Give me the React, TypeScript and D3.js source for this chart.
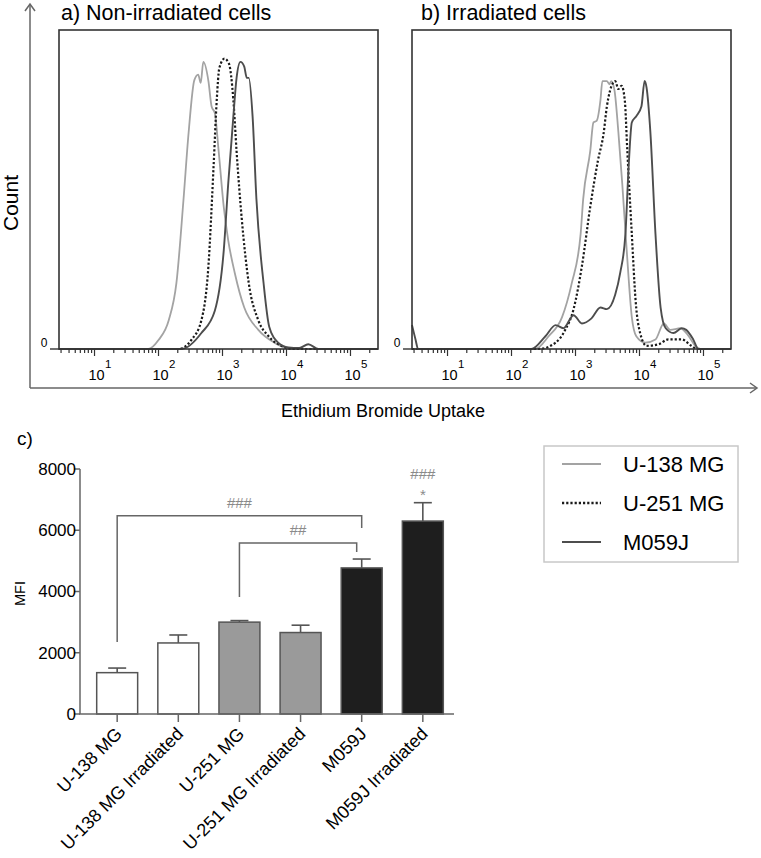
import { useRef, useEffect } from 'react'
import * as d3 from 'd3'

// flow histograms: [log10 intensity, % of max count]
const u138NonIrr: [number, number][] = [[0.445,0],[1.84,0],[2.0,2.8],[2.16,9],[2.28,20.7],[2.39,46.7],[2.47,67.7],[2.56,84.3],[2.62,86],[2.66,83.4],[2.70,90],[2.78,84],[2.83,76],[2.88,74],[2.94,62],[3.02,44.5],[3.09,34],[3.19,24],[3.34,13],[3.56,6],[3.81,2],[4.08,0],[5.43,0]]
const u251NonIrr: [number, number][] = [[0.445,0],[2.31,0],[2.52,3],[2.67,9],[2.78,26],[2.86,57],[2.91,78],[2.95,88],[3.03,91],[3.10,89.5],[3.17,78],[3.22,62],[3.30,41],[3.41,20.7],[3.56,9],[3.72,4],[3.92,1],[4.1,0],[5.43,0]]
const m059NonIrr: [number, number][] = [[0.445,0],[2.36,0],[2.67,5],[2.88,12],[3.02,31],[3.09,52],[3.17,73],[3.22,85],[3.28,90],[3.34,88.5],[3.38,85],[3.41,85],[3.47,73],[3.53,47],[3.64,21],[3.73,7],[3.87,2],[4.03,0.5],[4.2,0.3],[4.34,1.5],[4.5,0],[5.43,0]]

const u138Irr: [number, number][] = [[0.445,0],[2.37,0],[2.58,4],[2.79,10],[2.94,20.5],[3.08,36],[3.12,47],[3.23,62],[3.28,71],[3.33,71.5],[3.39,78],[3.42,84],[3.49,84],[3.53,83],[3.56,84],[3.61,81],[3.67,68],[3.73,52],[3.80,31],[3.88,10],[3.95,4],[4.09,2],[4.25,3],[4.38,8],[4.48,6],[4.64,6.5],[4.77,4],[4.87,1],[4.95,0],[5.43,0]]
const u251Irr: [number, number][] = [[0.445,0],[2.42,0],[2.69,2],[2.84,6],[2.97,12.5],[3.10,26],[3.23,44.5],[3.35,59],[3.44,67.7],[3.49,76],[3.54,81],[3.62,84],[3.67,81.5],[3.72,82.5],[3.77,78],[3.81,62],[3.88,36],[3.94,15],[4.01,5],[4.11,1],[4.30,1.5],[4.45,3],[4.66,3],[4.81,1],[4.9,0],[5.43,0]]
const m059Irr: [number, number][] = [[0.445,7.5],[0.5,3],[0.54,0],[2.31,0],[2.53,4],[2.69,7.5],[2.81,6.5],[2.97,10.6],[3.10,8],[3.25,9.6],[3.39,13],[3.49,12.5],[3.62,17],[3.70,24],[3.78,36],[3.83,57],[3.88,71],[3.95,73],[4.03,76],[4.08,84],[4.11,82],[4.17,68],[4.25,36],[4.33,13],[4.41,6.5],[4.53,5],[4.66,6.5],[4.73,6],[4.84,3],[4.92,0],[5.43,0]]

const decades = [1, 2, 3, 4, 5]
const panelTitles = ['a) Non-irradiated cells', 'b) Irradiated cells']
const seriesNames = ['U-138 MG', 'U-251 MG', 'M059J']

// bar chart
const barCategories = ['U-138 MG', 'U-138 MG Irradiated', 'U-251 MG', 'U-251 MG Irradiated', 'M059J', 'M059J Irradiated']
const barMeans = [1350, 2320, 3000, 2660, 4770, 6300]
const barErrors = [150, 260, 50, 240, 290, 600]
const mfiTicks = [0, 2000, 4000, 6000, 8000]
// brackets: [from bar, to bar, level, left foot, right foot, label]
const brackets: [number, number, number, number, number, string][] = [
  [0, 4, 6470, 2350, 6070, '###'],
  [2, 4, 5580, 3820, 5290, '##'],
]

const FONT = 'Liberation Sans, Arial, Helvetica, sans-serif'
const seriesStyle = [
  { stroke: '#a3a3a3', width: 1.8, dash: null },
  { stroke: '#1a1a1a', width: 2.2, dash: '2.2,2' },
  { stroke: '#4d4d4d', width: 1.9, dash: null },
]
const barFill = ['#ffffff', '#ffffff', '#9a9a9a', '#9a9a9a', '#1e1e1e', '#1e1e1e']

const App = () => {
  const svgRef = useRef<SVGSVGElement>(null)

  useEffect(() => {
    const svg = d3.select(svgRef.current)
    svg.selectAll('*').remove()
    svg.attr('font-family', FONT)

    // arrow helper
    const chevron = (pts: [number, number][]) =>
      svg.append('path').attr('d', d3.line()(pts)).attr('fill', 'none')
        .attr('stroke', '#666').attr('stroke-width', 1.5)

    // outer axes with arrows
    svg.append('line').attr('x1', 30).attr('x2', 30).attr('y1', 4).attr('y2', 388)
      .attr('stroke', '#666').attr('stroke-width', 1.5)
    svg.append('line').attr('x1', 30).attr('x2', 757).attr('y1', 388).attr('y2', 388)
      .attr('stroke', '#666').attr('stroke-width', 1.5)
    chevron([[25, 11], [30, 4], [35, 11]])
    chevron([[750, 383], [757, 388], [750, 393]])

    svg.append('text').attr('transform', 'translate(18,203) rotate(-90)')
      .attr('text-anchor', 'middle').attr('font-size', 21).text('Count')
    svg.append('text').attr('x', 383).attr('y', 417)
      .attr('text-anchor', 'middle').attr('font-size', 18).text('Ethidium Bromide Uptake')

    const panels = [
      { x0: 59, data: [u138NonIrr, u251NonIrr, m059NonIrr] },
      { x0: 412, data: [u138Irr, u251Irr, m059Irr] },
    ]
    const boxW = 319, top = 30, base = 349

    panels.forEach((p, pi) => {
      const g = svg.append('g')
      const x = d3.scaleLog().domain([10 ** 0.445, 10 ** 5.43]).range([p.x0, p.x0 + boxW])
      const y = d3.scaleLinear().domain([0, 100]).range([base, top])

      g.append('text').attr('x', p.x0 + 2 + (pi ? 7 : 0)).attr('y', 19.5)
        .attr('font-size', 21.5).text(panelTitles[pi])

      const line = d3.line<[number, number]>()
        .x(d => x(10 ** d[0])).y(d => y(d[1])).curve(d3.curveMonotoneX)
      p.data.forEach((s, si) => {
        const st = seriesStyle[si]
        g.append('path').attr('d', line(s)).attr('fill', 'none')
          .attr('stroke', st.stroke).attr('stroke-width', st.width)
          .attr('stroke-dasharray', st.dash).attr('stroke-linejoin', 'round')
      })

      g.append('rect').attr('x', p.x0).attr('y', top).attr('width', boxW).attr('height', base - top)
        .attr('fill', 'none').attr('stroke', '#333').attr('stroke-width', 1.6)

      // zero tick
      g.append('line').attr('x1', p.x0 - 9).attr('x2', p.x0).attr('y1', base).attr('y2', base)
        .attr('stroke', '#333').attr('stroke-width', 1.4)
      g.append('text').attr('x', p.x0 - 15).attr('y', base - 2).attr('text-anchor', 'middle')
        .attr('font-size', 12).text('0')

      // log ticks
      const [d0, d1] = x.domain()
      for (let n = 0; n <= 5; n++) {
        for (let k = 1; k <= 9; k++) {
          const v = k * 10 ** n
          if (v < d0 || v > d1) continue
          g.append('line').attr('x1', x(v)).attr('x2', x(v)).attr('y1', base)
            .attr('y2', base + (k === 1 ? 7 : 4))
            .attr('stroke', '#333').attr('stroke-width', 1.2)
        }
      }
      decades.forEach(d => {
        const xv = x(10 ** d)
        g.append('text').attr('x', xv + 2).attr('y', 380).attr('text-anchor', 'middle')
          .attr('font-size', 14.5).text('10')
        g.append('text').attr('x', xv + 10.5).attr('y', 368)
          .attr('font-size', 11.5).text(String(d))
      })
    })

    // ---- bar chart
    const bx = d3.scaleBand<string>().domain(barCategories).range([86, 454])
      .paddingInner(0.33).paddingOuter(0.175)
    const by = d3.scaleLinear().domain([0, 8000]).range([714, 469])

    svg.append('text').attr('x', 17).attr('y', 445).attr('font-size', 19).text('c)')

    const bars = svg.append('g')
    barCategories.forEach((c, i) => {
      const cx = bx(c)! + bx.bandwidth() / 2
      const ytop = by(barMeans[i] + barErrors[i])
      bars.append('line').attr('x1', cx).attr('x2', cx).attr('y1', by(barMeans[i])).attr('y2', ytop)
        .attr('stroke', '#555').attr('stroke-width', 1.6)
      bars.append('line').attr('x1', cx - 9).attr('x2', cx + 9).attr('y1', ytop).attr('y2', ytop)
        .attr('stroke', '#555').attr('stroke-width', 1.6)
      bars.append('rect').attr('x', bx(c)!).attr('y', by(barMeans[i]))
        .attr('width', bx.bandwidth()).attr('height', by(0) - by(barMeans[i]))
        .attr('fill', barFill[i]).attr('stroke', '#555').attr('stroke-width', 1.5)
    })

    // axes
    svg.append('line').attr('x1', 80).attr('x2', 80).attr('y1', by(8000)).attr('y2', by(0))
      .attr('stroke', '#666').attr('stroke-width', 1.5)
    svg.append('line').attr('x1', 79).attr('x2', 454).attr('y1', by(0)).attr('y2', by(0))
      .attr('stroke', '#666').attr('stroke-width', 1.5)
    mfiTicks.forEach(t => {
      svg.append('line').attr('x1', 74).attr('x2', 80).attr('y1', by(t)).attr('y2', by(t))
        .attr('stroke', '#666').attr('stroke-width', 1.5)
      svg.append('text').attr('x', 76).attr('y', by(t)).attr('dy', '0.35em')
        .attr('text-anchor', 'end').attr('font-size', 17).text(String(t))
    })
    svg.append('text').attr('transform', `translate(25,${(by(0) + by(8000)) / 2 + 2}) rotate(-90)`)
      .attr('text-anchor', 'middle').attr('font-size', 14.5).text('MFI')

    barCategories.forEach(c => {
      const cx = bx(c)! + bx.bandwidth() / 2
      svg.append('line').attr('x1', cx).attr('x2', cx).attr('y1', by(0)).attr('y2', by(0) + 8)
        .attr('stroke', '#666').attr('stroke-width', 1.5)
      svg.append('text').attr('transform', `translate(${cx + 6},${by(0) + 21}) rotate(-45)`)
        .attr('text-anchor', 'end').attr('font-size', 18).text(c)
    })

    // significance
    brackets.forEach(([a, b, lvl, fa, fb, lab], i) => {
      const xa = bx(barCategories[a])! + bx.bandwidth() / 2
      const xb = bx(barCategories[b])! + bx.bandwidth() / 2 - (i ? 5 : 0)
      svg.append('path').attr('d', d3.line()([[xa, by(fa)], [xa, by(lvl)], [xb, by(lvl)], [xb, by(fb)]]))
        .attr('fill', 'none').attr('stroke', '#666').attr('stroke-width', 1.5)
      svg.append('text').attr('x', (xa + xb) / 2).attr('y', by(lvl) - 8).attr('text-anchor', 'middle')
        .attr('font-size', 15).attr('fill', '#8a8a8a').text(lab)
    })
    const lastX = bx(barCategories[5])! + bx.bandwidth() / 2
    const lastTop = by(barMeans[5] + barErrors[5])
    svg.append('text').attr('x', lastX).attr('y', lastTop - 3).attr('text-anchor', 'middle')
      .attr('font-size', 15).attr('fill', '#8a8a8a').text('*')
    svg.append('text').attr('x', lastX).attr('y', lastTop - 24).attr('text-anchor', 'middle')
      .attr('font-size', 15).attr('fill', '#8a8a8a').text('###')

    // legend
    const lg = svg.append('g')
    lg.append('rect').attr('x', 544).attr('y', 446).attr('width', 194).attr('height', 116)
      .attr('fill', 'none').attr('stroke', '#c8c8c8').attr('stroke-width', 1.5)
    seriesNames.forEach((n, i) => {
      const yy = 464 + i * 39
      const st = seriesStyle[i]
      lg.append('line').attr('x1', 562).attr('x2', 601).attr('y1', yy).attr('y2', yy)
        .attr('stroke', st.stroke).attr('stroke-width', st.width + 0.3)
        .attr('stroke-dasharray', st.dash)
      lg.append('text').attr('x', 623).attr('y', yy).attr('dy', '0.36em')
        .attr('font-size', 22).text(n)
    })
  }, [])

  return (
    <svg ref={svgRef} width={761} height={858}
      style={{ position: 'absolute', left: 0, top: 0, background: '#fff' }}></svg>
  )
}
export default App
